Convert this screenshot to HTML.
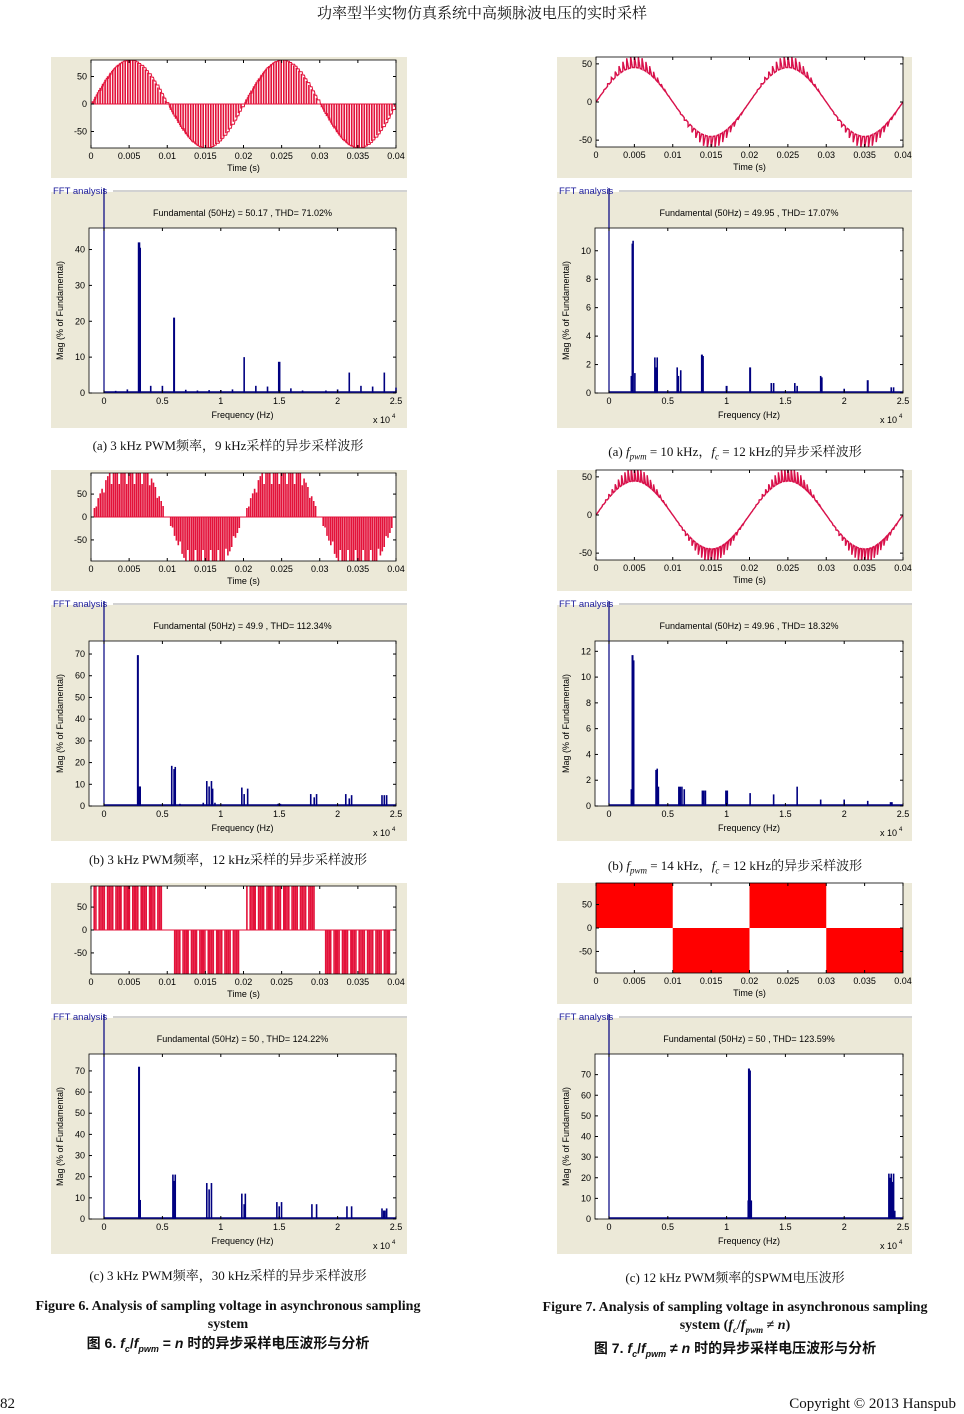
<!DOCTYPE html><html><head><meta charset="utf-8"><style>
body{margin:0;background:#fff;width:964px;height:1414px;position:relative;overflow:hidden;font-family:"Liberation Serif","Noto Serif CJK SC",serif}
.t{position:absolute;white-space:nowrap;color:#111}
svg{position:absolute;left:0;top:0}
</style></head><body>
<div class="t" style="left:0;width:964px;text-align:center;top:2px;font-size:15px">功率型半实物仿真系统中高频脉波电压的实时采样</div>
<div class="t" style="left:0;width:456px;text-align:center;top:435px;font-size:13px">(a) 3 kHz PWM频率，9 kHz采样的异步采样波形</div>
<div class="t" style="left:0;width:456px;text-align:center;top:849px;font-size:13px">(b) 3 kHz PWM频率，12 kHz采样的异步采样波形</div>
<div class="t" style="left:0;width:456px;text-align:center;top:1265px;font-size:13px">(c) 3 kHz PWM频率，30 kHz采样的异步采样波形</div>
<div class="t" style="left:505px;width:460px;text-align:center;top:441px;font-size:13px">(a) <i>f<sub style="font-size:9px">pwm</sub></i> = 10 kHz，<i>f<sub style="font-size:9px">c</sub></i> = 12 kHz的异步采样波形</div>
<div class="t" style="left:505px;width:460px;text-align:center;top:855px;font-size:13px">(b) <i>f<sub style="font-size:9px">pwm</sub></i> = 14 kHz，<i>f<sub style="font-size:9px">c</sub></i> = 12 kHz的异步采样波形</div>
<div class="t" style="left:505px;width:460px;text-align:center;top:1267px;font-size:13px">(c) 12 kHz PWM频率的SPWM电压波形</div>
<div class="t" style="left:0;width:456px;text-align:center;top:1298px;font-size:14px;font-weight:bold;line-height:18px">Figure 6. Analysis of sampling voltage in asynchronous sampling<br>system<br><span style="font-family:'Liberation Sans','Noto Sans CJK SC',sans-serif">图 6. <i>f<sub style="font-size:9px">c</sub></i>/<i>f<sub style="font-size:9px">pwm</sub></i> = <i>n</i> 时的异步采样电压波形与分析</span></div>
<div class="t" style="left:505px;width:460px;text-align:center;top:1299px;font-size:14px;font-weight:bold;line-height:18px">Figure 7. Analysis of sampling voltage in asynchronous sampling<br>system (<i>f<sub style="font-size:9px">c</sub></i>/<i>f<sub style="font-size:9px">pwm</sub></i> ≠ <i>n</i>)<br><span style="font-family:'Liberation Sans','Noto Sans CJK SC',sans-serif">图 7. <i>f<sub style="font-size:9px">c</sub></i>/<i>f<sub style="font-size:9px">pwm</sub></i> ≠ <i>n</i> 时的异步采样电压波形与分析</span></div>
<div class="t" style="left:0;top:1396px;font-size:15px">82</div>
<div class="t" style="right:8px;top:1396px;font-size:15px">Copyright © 2013 Hanspub</div>
<svg id="s" width="964" height="1414" font-family="Liberation Sans, sans-serif" font-size="9"></svg>
<script>
var S=document.getElementById('s'),h='';
var BG='#ece9d8',RED='#e3123a',NAVY='#000080';
function txt(x,y,s,a,extra){h+='<text x="'+x+'" y="'+y+'" text-anchor="'+(a||'middle')+'" '+(extra||'')+'>'+s+'</text>';}
function panel(C,dy,cfg){
 var bx=C.bx,bw=C.bw;
 var tb=57+dy;h+='<rect x="'+bx+'" y="'+tb+'" width="'+bw+'" height="121" fill="'+BG+'"/>';
 var px=C.tx,pw=C.tw,py=C.ty+dy,ph=C.th,yl=cfg.ylim;
 h+='<rect x="'+px+'" y="'+py+'" width="'+pw+'" height="'+ph+'" fill="#fff"/>';
 function X(t){return px+t/0.04*pw;} function Y(v){return py+ph/2-v/yl*ph/2;}
 h+='<clipPath id="c'+C.id+dy+'"><rect x="'+px+'" y="'+py+'" width="'+pw+'" height="'+ph+'"/></clipPath>';
 h+='<g clip-path="url(#c'+C.id+dy+')">';
 cfg.wave(X,Y);
 h+='</g>';
 h+='<rect x="'+px+'" y="'+py+'" width="'+pw+'" height="'+ph+'" fill="none" stroke="#000" stroke-width="0.8"/>';
 var ts=['0','0.005','0.01','0.015','0.02','0.025','0.03','0.035','0.04'];
 for(var i=0;i<9;i++){var x=X(i*0.005);h+='<line x1="'+x+'" y1="'+(py+ph)+'" x2="'+x+'" y2="'+(py+ph-3)+'" stroke="#000"/><line x1="'+x+'" y1="'+py+'" x2="'+x+'" y2="'+(py+3)+'" stroke="#000"/>';txt(x,py+ph+11,ts[i]);}
 [50,0,-50].forEach(function(v){var y=Y(v);h+='<line x1="'+px+'" y1="'+y+'" x2="'+(px+3)+'" y2="'+y+'" stroke="#000"/><line x1="'+(px+pw)+'" y1="'+y+'" x2="'+(px+pw-3)+'" y2="'+y+'" stroke="#000"/>';txt(px-4,y+3,v,'end');});
 txt(px+pw/2,py+ph+23,'Time (s)');
 var fb=C.fb+dy;h+='<rect x="'+bx+'" y="'+fb+'" width="'+bw+'" height="236" fill="'+BG+'"/>';
 h+='<line x1="'+(bx+62)+'" y1="'+(fb-1)+'" x2="'+(bx+bw)+'" y2="'+(fb-1)+'" stroke="#888" stroke-width="0.8"/>';
 txt(bx+2,fb+2,'FFT analysis','start','fill="#1a1a9a" font-size="9.5"');
 var fx=C.fx,fw=C.fw,fy=228+dy,fh=165,ym=cfg.ymax;
 h+='<rect x="'+fx+'" y="'+fy+'" width="'+fw+'" height="'+fh+'" fill="#fff" stroke="#000" stroke-width="0.8"/>';
 var x0=C.f0,sc=(fx+fw-x0)/2.5;
 function FX(f){return x0+f*sc;} function FY(v){return fy+fh-v/ym*fh;}
 txt(fx+fw/2,fy-12,cfg.title);
 h+='<line x1="'+FX(0)+'" y1="'+(fy+fh-1)+'" x2="'+(fx+fw)+'" y2="'+(fy+fh-1)+'" stroke="'+NAVY+'" stroke-width="1.5"/>';
 cfg.bars.forEach(function(b){h+='<line x1="'+FX(b[0])+'" y1="'+(fy+fh)+'" x2="'+FX(b[0])+'" y2="'+Math.max(fy,FY(b[1]))+'" stroke="'+NAVY+'" stroke-width="'+(b[2]||1.6)+'"/>';});
 h+='<line x1="'+x0+'" y1="'+(fb-4)+'" x2="'+x0+'" y2="'+(fy+fh)+'" stroke="'+NAVY+'" stroke-width="1.2"/>';
 ['0','0.5','1','1.5','2','2.5'].forEach(function(s,i){var x=FX(i*0.5);h+='<line x1="'+x+'" y1="'+(fy+fh)+'" x2="'+x+'" y2="'+(fy+fh-3)+'" stroke="#000"/><line x1="'+x+'" y1="'+fy+'" x2="'+x+'" y2="'+(fy+3)+'" stroke="#000"/>';txt(x,fy+fh+11,s);});
 cfg.yt.forEach(function(v){var y=FY(v);h+='<line x1="'+fx+'" y1="'+y+'" x2="'+(fx+3)+'" y2="'+y+'" stroke="#000"/><line x1="'+(fx+fw)+'" y1="'+y+'" x2="'+(fx+fw-3)+'" y2="'+y+'" stroke="#000"/>';txt(fx-4,y+3,v,'end');});
 txt(fx+fw/2,fy+fh+25,'Frequency (Hz)');
 txt(fx+fw-23,fy+fh+30,'x 10','start');txt(fx+fw-4,fy+fh+25,'4','start','font-size="6"');
 txt(0,0,'Mag (% of Fundamental)','middle','transform="translate('+(bx+12)+','+(fy+fh/2)+') rotate(-90)"');
}
var L={id:'L',bx:51,bw:356,tx:91,tw:305,ty:60,th:88,fb:192,fx:89,fw:307,f0:104};
var R={id:'R',bx:557,bw:355,tx:596,tw:307,ty:57,th:90,fb:192,fx:595,fw:308,f0:609};
var W=Math.PI*2*50;
function pulses(X,Y,step,fn,env){var s='';for(var t=0.0002;t<0.04;t+=step){var v=fn(t);if(v!==null)s+='M'+X(t).toFixed(1)+' '+Y(0)+'V'+Y(v).toFixed(1);}h+='<path d="'+s+'" stroke="'+RED+'" stroke-width="1.6" fill="none"/>';h+='<line x1="'+X(0)+'" y1="'+Y(0)+'" x2="'+X(0.04)+'" y2="'+Y(0)+'" stroke="'+RED+'"/>';
 if(env){var e='';for(var i=0;i<=400;i++){var t=i*0.0001;var v=env(t);e+=(i?'L':'M')+X(t).toFixed(1)+' '+Y(v).toFixed(1);}h+='<path d="'+e+'" stroke="'+RED+'" stroke-width="1" fill="none"/>';}}
function rip(X,Y,A,r,f){var s='';for(var i=0;i<=3000;i++){var t=i*0.04/3000;var sn=Math.sin(W*t);var ph=(t*f)%1;var v=A*sn+r*sn*Math.abs(sn)*(ph<0.5?1-ph*2:0)-r*0.3*sn;s+=(i?'L':'M')+X(t).toFixed(1)+' '+Y(v).toFixed(1);}h+='<path d="'+s+'" stroke="#d8104a" stroke-width="1.4" fill="none"/>';}
panel(L,0,{ylim:80,ymax:46,yt:[0,10,20,30,40],title:'Fundamental (50Hz) = 50.17 , THD= 71.02%',
 wave:function(X,Y){pulses(X,Y,0.00033,function(t){var v=80*Math.sin(W*t);return Math.abs(v)<3?null:v;},function(t){var q=Math.floor(t/0.00033)*0.00033;return 80*Math.sin(W*q);});},
 bars:[[0.3,42,2.5],[0.31,40.5],[0.6,21,2],[1.2,10],[1.5,8.7,2.5],[2.1,5.7],[2.4,5.7],[2.2,2],[2.3,1.8],[0.4,2],[0.5,2],[1.3,2],[1.4,1.8],[1.6,1.3],[0.2,1],[0.1,0.6],[0.7,0.9],[0.8,0.7],[0.9,0.8],[1.0,0.8],[1.1,1],[1.7,0.7],[1.9,0.7],[2.0,1],[2.5,1.5]]});
panel(R,0,{ylim:59,ymax:11.6,yt:[0,2,4,6,8,10],title:'Fundamental (50Hz) = 49.95 , THD= 17.07%',
 wave:function(X,Y){rip(X,Y,50,16,2000);},
 bars:[[0.2,10.5,2],[0.205,10.7],[0.19,1.2],[0.22,1.4],[0.39,2.5],[0.41,2.5],[0.4,1.8],[0.58,1.8],[0.59,1.2],[0.61,1.6],[0.79,2.7,2],[0.8,2.6],[1.0,0.5,2],[1.2,1.8,2],[1.38,0.7],[1.4,0.7],[1.58,0.7],[1.6,0.5],[1.8,1.2],[1.81,1.1],[2.0,0.3],[2.2,0.9,2],[2.4,0.4],[2.42,0.4]]});
panel(L,413,{ylim:96,ymax:76,yt:[0,10,20,30,40,50,60,70],title:'Fundamental (50Hz) = 49.9 , THD= 112.34%',
 wave:function(X,Y){pulses(X,Y,0.00025,function(t){var s=Math.sin(W*t);if(Math.abs(s)<0.12)return null;var v=Math.sign(s)*Math.min(96,140*Math.abs(s));if((Math.floor(t/0.00025)%4)==2)v*=0.75;return v;});},
 bars:[[0.29,69.5,2],[0.3,9,2.5],[0.31,9],[0.58,18.5],[0.6,17],[0.61,18],[0.88,11.5],[0.9,9],[0.92,11.5],[0.93,8],[1.18,8.5],[1.2,5.5],[1.23,8],[1.77,5.5],[1.8,4],[1.82,5.5],[2.07,5.5],[2.1,3.5],[2.12,5],[2.38,5],[2.4,5],[2.42,5],[1.5,1,4],[0.65,1],[0.85,1.5],[0.95,1.5]]});
panel(R,413,{ylim:59,ymax:12.8,yt:[0,2,4,6,8,10,12],title:'Fundamental (50Hz) = 49.96 , THD= 18.32%',
 wave:function(X,Y){rip(X,Y,50,18,2400);},
 bars:[[0.2,11.7,2],[0.21,11.3],[0.19,1.3],[0.4,2.8],[0.41,2.9],[0.42,1.5],[0.6,1.5,3],[0.62,1.5],[0.64,1.3],[0.8,1.2,3],[0.82,1.2],[1.0,1.2,3],[1.2,1.0],[1.4,0.9],[1.6,1.5],[1.8,0.5],[2.0,0.5],[2.2,0.4],[2.4,0.3,3]]});
panel(L,826,{ylim:96,ymax:78,yt:[0,10,20,30,40,50,60,70],title:'Fundamental (50Hz) = 50 , THD= 124.22%',
 wave:function(X,Y){pulses(X,Y,0.00022,function(t){var c=t%0.02;if((c>0.0093&&c<0.0107)||c>0.0195||c<0.0004)return null;if(Math.floor(t/0.00022)%5==3)return null;return Math.sin(W*t)>0?96:-96;});},
 bars:[[0.3,72,2],[0.31,9],[0.59,21],[0.61,21],[0.6,18],[0.88,17],[0.9,14],[0.92,17],[1.18,12],[1.21,12],[1.2,7],[1.48,8],[1.52,8],[1.5,6],[1.78,7],[1.82,7],[2.08,6],[2.12,6],[2.38,5],[2.42,5],[2.4,4,3]]});
panel(R,826,{ylim:96,ymax:80,yt:[0,10,20,30,40,50,60,70],title:'Fundamental (50Hz) = 50 , THD= 123.59%',
 wave:function(X,Y){[[0,1],[0.01,-1],[0.02,1],[0.03,-1]].forEach(function(a){var y=a[1]>0?Y(96):Y(0);h+='<rect x="'+X(a[0])+'" y="'+y+'" width="'+(X(0.01)-X(0))+'" height="'+(Y(0)-Y(96))+'" fill="#ff0000"/>';});},
 bars:[[1.19,73,2],[1.2,72],[1.19,9,3],[1.21,9],[2.38,22],[2.4,22],[2.39,20],[2.41,18],[2.42,22],[2.43,4]]});
S.innerHTML=h;
</script>
</body></html>
